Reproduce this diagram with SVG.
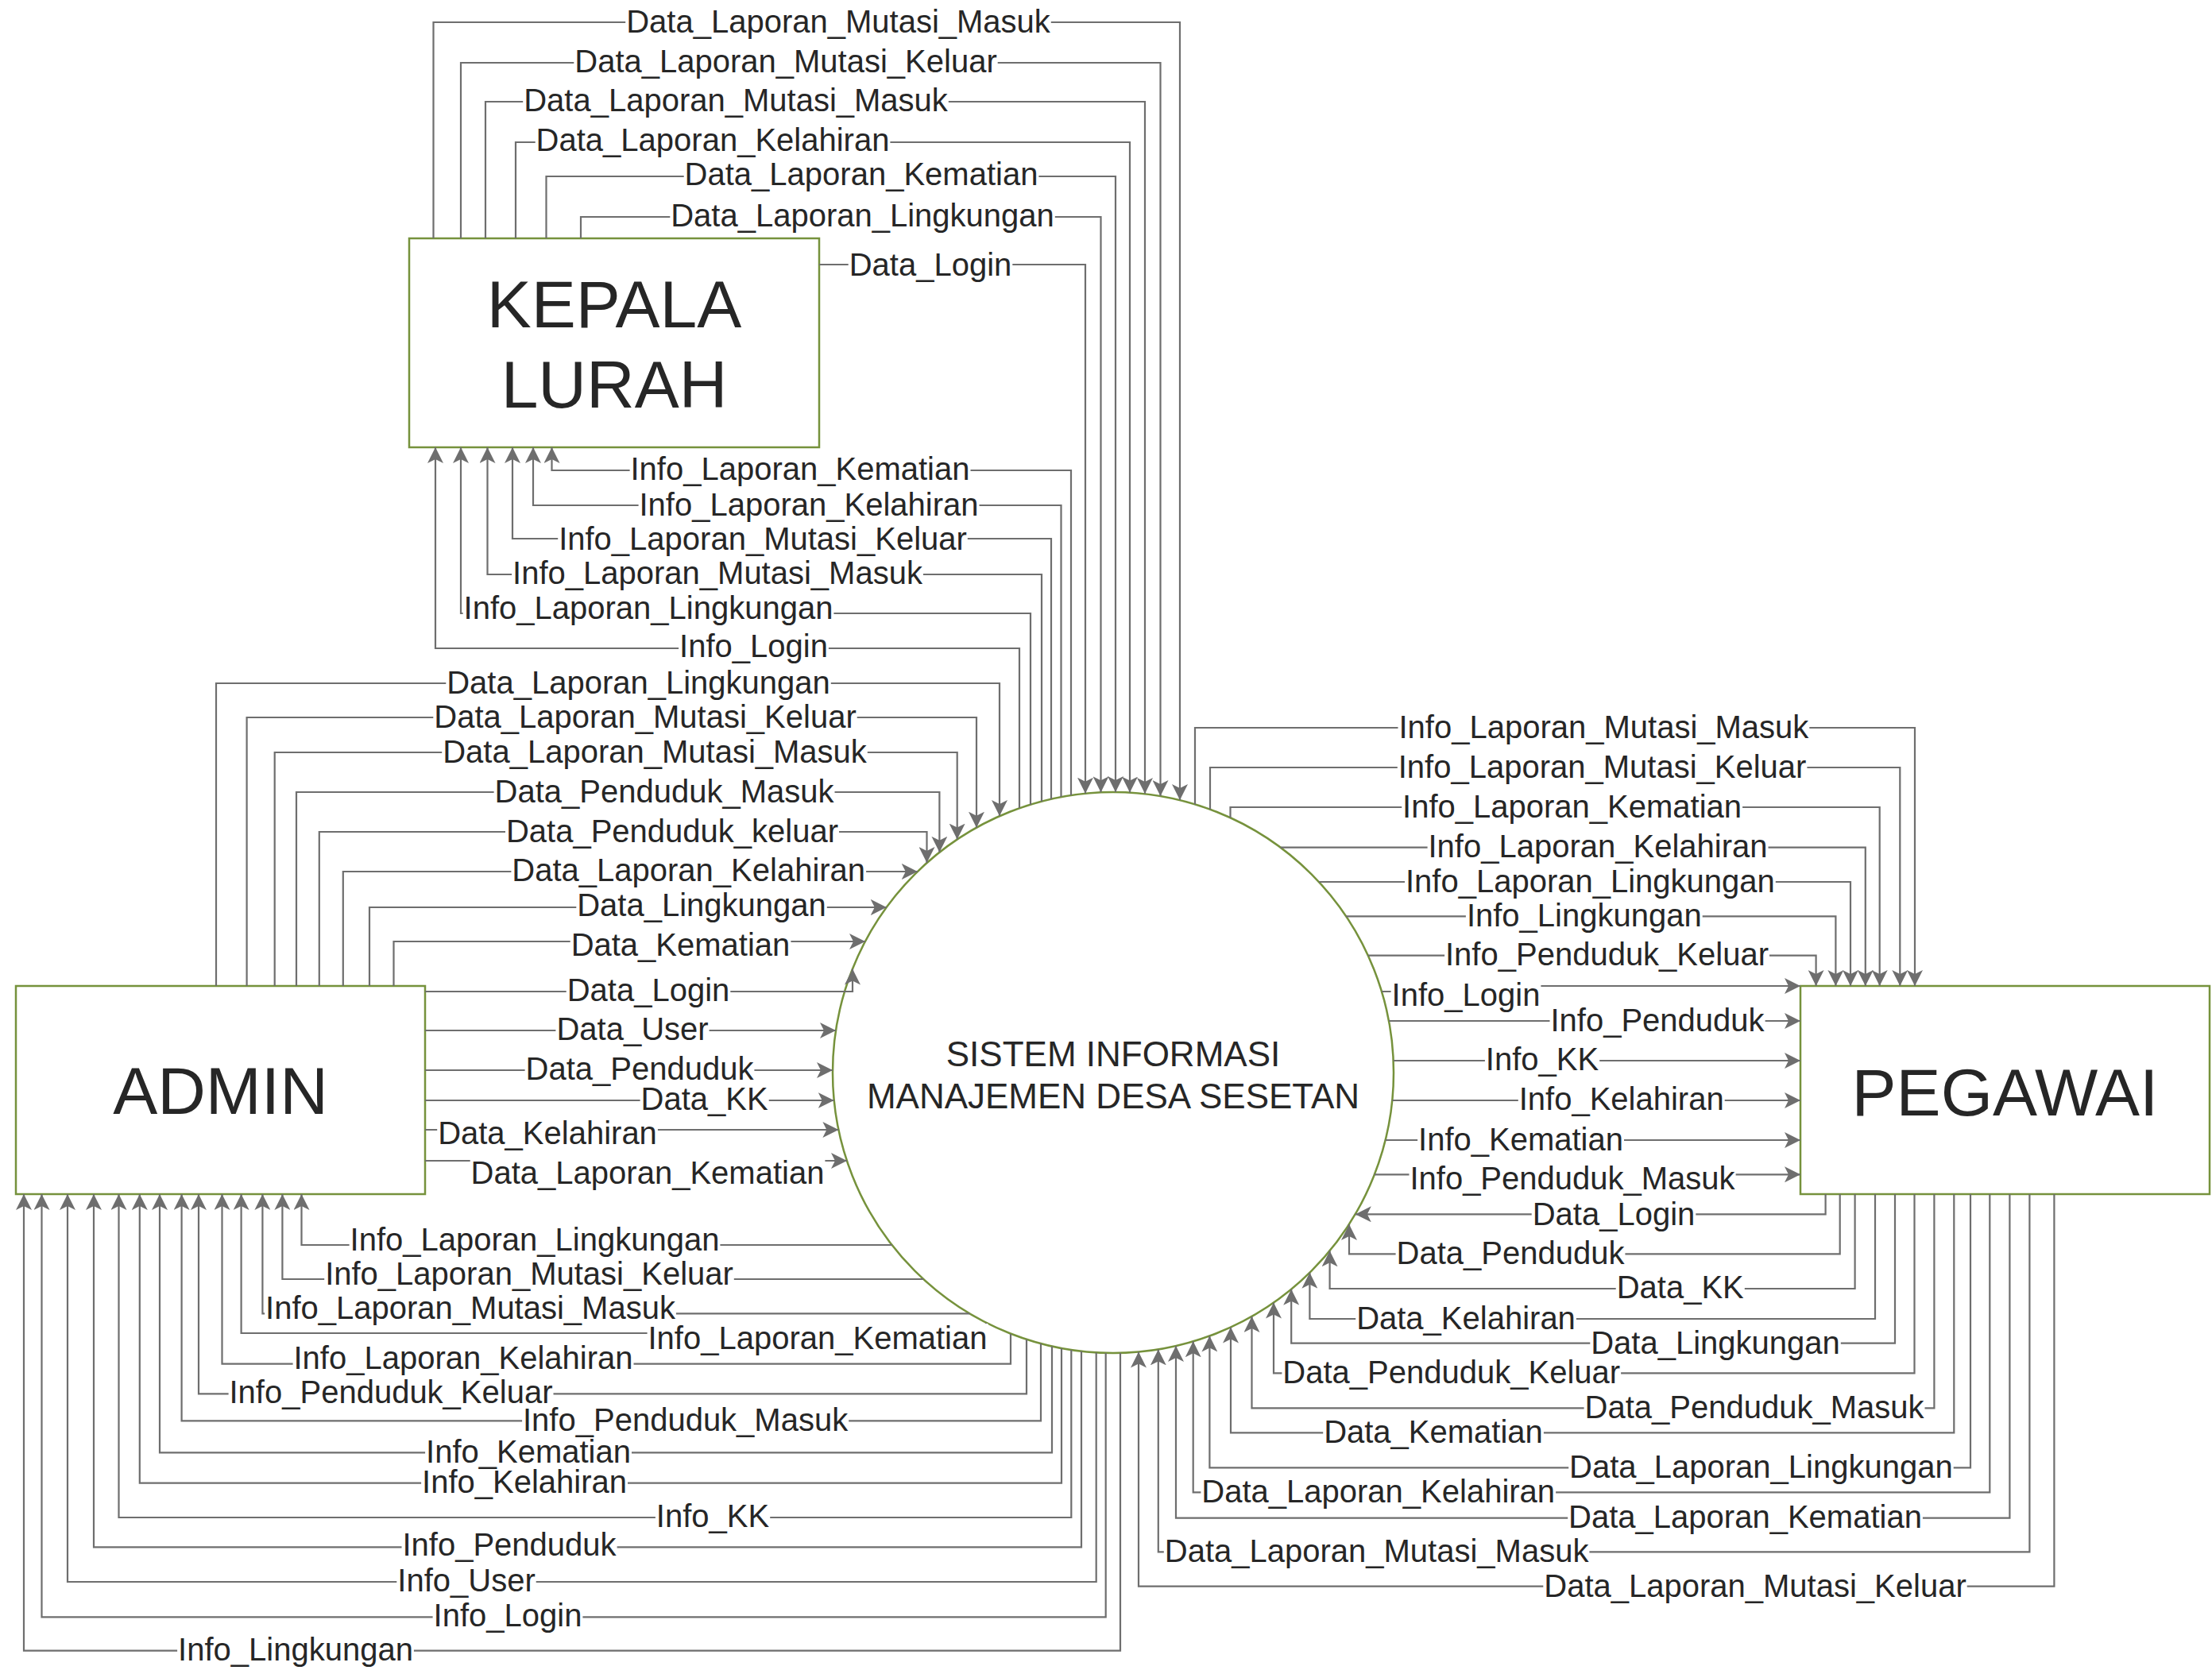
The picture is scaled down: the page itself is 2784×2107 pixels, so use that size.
<svg xmlns="http://www.w3.org/2000/svg" width="2784" height="2107" viewBox="0 0 2784 2107">
<defs>
<style>
.node{fill:#fff;stroke:#76923c;stroke-width:2.5}
.nt{font-family:"Liberation Sans",Arial,sans-serif;font-size:84px;fill:#262626;text-anchor:middle}
.ct{font-family:"Liberation Sans",Arial,sans-serif;font-size:44px;fill:#262626;text-anchor:middle}
.ln{fill:none;stroke:#6e6e6e;stroke-width:2.2}
.ar{marker-end:url(#ah)}
.bg{fill:#fff}
.lb{font-family:"Liberation Sans",Arial,sans-serif;font-size:40px;fill:#262626;text-anchor:middle}
</style>
<marker id="ah" viewBox="0 0 20 20" refX="20" refY="10" markerWidth="20" markerHeight="20" markerUnits="userSpaceOnUse" orient="auto"><path d="M0,0 L20,10 L0,20 L5,10 Z" fill="#6e6e6e"/></marker>
</defs>
<rect width="2784" height="2107" fill="#fff"/>

<g id="kepala-lurah">
<rect class="node" x="515" y="300" width="516" height="263"/>
<text class="nt" x="773" y="412">KEPALA</text>
<text class="nt" x="773" y="513">LURAH</text>
</g>
<g id="admin">
<rect class="node" x="20" y="1241" width="515" height="262"/>
<text class="nt" x="277.5" y="1402">ADMIN</text>
</g>
<g id="pegawai">
<rect class="node" x="2266" y="1241" width="515" height="262"/>
<text class="nt" x="2523.5" y="1404">PEGAWAI</text>
</g>
<g id="sistem">
<circle class="node" cx="1401" cy="1350" r="353"/>
<text class="ct" x="1401" y="1342">SISTEM INFORMASI</text>
<text class="ct" x="1401" y="1395">MANAJEMEN DESA SESETAN</text>
</g>

<g id="connectors">
<g id="lines">
<path class="ln ar" d="M545.5,300 V28 H1485 V1007"/>
<path class="ln ar" d="M580,300 V79 H1460.5 V1002"/>
<path class="ln ar" d="M611,300 V128 H1441 V999"/>
<path class="ln ar" d="M649,300 V179 H1422 V997.6"/>
<path class="ln ar" d="M687.5,300 V222 H1404 V997"/>
<path class="ln ar" d="M731,300 V273 H1385.5 V997.3"/>
<path class="ln ar" d="M1031,333 H1366 V998.7"/>

<path class="ln ar" d="M1348,1001 V592 H694.5 V563"/>
<path class="ln ar" d="M1335.5,1003 V636 H671 V563"/>
<path class="ln ar" d="M1323,1006 V678 H645 V563"/>
<path class="ln ar" d="M1311,1009 V723 H613.5 V563"/>
<path class="ln ar" d="M1297,1013 V772 H580 V563"/>
<path class="ln ar" d="M1283,1017 V816 H548 V563"/>

<path class="ln ar" d="M272,1241 V860 H1258 V1027"/>
<path class="ln ar" d="M310.6,1241 V903 H1229 V1041.7"/>
<path class="ln ar" d="M345.7,1241 V947 H1204.7 V1056.6"/>
<path class="ln ar" d="M373,1241 V997 H1182.4 V1072.8"/>
<path class="ln ar" d="M401.8,1241 V1047 H1166.5 V1086"/>
<path class="ln ar" d="M431.8,1241 V1097 H1154.8"/>
<path class="ln ar" d="M465,1241 V1142 H1115.8"/>
<path class="ln ar" d="M495.5,1241 V1185 H1089"/>
<path class="ln ar" d="M535,1248 H1073 V1219.5"/>
<path class="ln ar" d="M535,1297 H1052"/>
<path class="ln ar" d="M535,1347 H1048"/>
<path class="ln ar" d="M535,1385 H1049.7"/>
<path class="ln ar" d="M535,1422 H1055.4"/>
<path class="ln ar" d="M535,1461 H1066"/>

<path class="ln ar" d="M1122.6,1567 H379.5 V1503"/>
<path class="ln ar" d="M1162.2,1610 H355.4 V1503"/>
<path class="ln ar" d="M1220.4,1653.3 H330.4 V1503"/>
<path class="ln ar" d="M1241,1665 V1678 H303.6 V1503"/>
<path class="ln ar" d="M1272,1679 V1716.7 H279.5 V1503"/>
<path class="ln ar" d="M1292,1686 V1754.3 H250 V1503"/>
<path class="ln ar" d="M1310,1691 V1788.3 H228.6 V1503"/>
<path class="ln ar" d="M1324,1694.5 V1828.3 H201 V1503"/>
<path class="ln ar" d="M1336,1697 V1866.7 H175.8 V1503"/>
<path class="ln ar" d="M1348.3,1699 V1910 H149.5 V1503"/>
<path class="ln ar" d="M1361,1700.7 V1947.3 H118 V1503"/>
<path class="ln ar" d="M1379.7,1702.4 V1991 H85 V1503"/>
<path class="ln ar" d="M1391.7,1702.9 V2035.3 H52.5 V1503"/>
<path class="ln ar" d="M1410,1702.9 V2077.7 H30 V1503"/>

<path class="ln ar" d="M1504,1012.4 V916 H2410 V1241"/>
<path class="ln ar" d="M1523,1018.8 V966 H2391.3 V1241"/>
<path class="ln ar" d="M1548.5,1029.3 V1016 H2365.7 V1241"/>
<path class="ln ar" d="M1611.6,1066.7 H2347.8 V1241"/>
<path class="ln ar" d="M1659.9,1110 H2329 V1241"/>
<path class="ln ar" d="M1694,1153.3 H2310.4 V1241"/>
<path class="ln ar" d="M1721.8,1202.7 H2285.6 V1241"/>
<path class="ln ar" d="M1739,1248 H1850 V1241 H2266"/>
<path class="ln ar" d="M1748,1285 H2266"/>
<path class="ln ar" d="M1753.7,1335 H2266"/>
<path class="ln ar" d="M1752.3,1385 H2266"/>
<path class="ln ar" d="M1743.6,1435 H2266"/>
<path class="ln ar" d="M1729.9,1478.3 H2266"/>

<path class="ln ar" d="M2297.6,1503 V1528.3 H1705.8"/>
<path class="ln ar" d="M2315.7,1503 V1578.3 H1698 V1541"/>
<path class="ln ar" d="M2334.6,1503 V1622 H1673.6 V1574.3"/>
<path class="ln ar" d="M2360,1503 V1660 H1648.4 V1601.8"/>
<path class="ln ar" d="M2385,1503 V1690.7 H1625.2 V1622.7"/>
<path class="ln ar" d="M2409.5,1503 V1728.3 H1603 V1639.6"/>
<path class="ln ar" d="M2434.4,1503 V1772.3 H1575.5 V1656.9"/>
<path class="ln ar" d="M2459.3,1503 V1803.3 H1549 V1670.5"/>
<path class="ln ar" d="M2480,1503 V1847.3 H1522.4 V1681.5"/>
<path class="ln ar" d="M2504.3,1503 V1878.3 H1501.7 V1688.3"/>
<path class="ln ar" d="M2529.4,1503 V1910.7 H1480 V1694"/>
<path class="ln ar" d="M2554.4,1503 V1953.3 H1457.8 V1698.4"/>
<path class="ln ar" d="M2585.4,1503 V1996.7 H1433 V1701.6"/>
</g>

<g id="label-backgrounds">
<rect class="bg" x="787.2" y="10" width="535.6" height="40"/>
<rect class="bg" x="722.3" y="61" width="533.4" height="40"/>
<rect class="bg" x="658.2" y="110" width="535.6" height="40"/>
<rect class="bg" x="673.7" y="161" width="446.7" height="40"/>
<rect class="bg" x="860.7" y="204" width="446.7" height="40"/>
<rect class="bg" x="843.3" y="255" width="484.5" height="40"/>
<rect class="bg" x="1067.7" y="315" width="206.6" height="40"/>

<rect class="bg" x="792.6" y="574" width="428.9" height="40"/>
<rect class="bg" x="803.6" y="618" width="428.9" height="40"/>
<rect class="bg" x="702.2" y="660" width="515.6" height="40"/>
<rect class="bg" x="644.1" y="705" width="517.8" height="40"/>
<rect class="bg" x="582.6" y="748" width="466.8" height="40"/>
<rect class="bg" x="854.1" y="796" width="188.8" height="40"/>

<rect class="bg" x="561.3" y="842" width="484.5" height="40"/>
<rect class="bg" x="545.3" y="885" width="533.4" height="40"/>
<rect class="bg" x="556.2" y="929" width="535.6" height="40"/>
<rect class="bg" x="621.6" y="979" width="428.9" height="40"/>
<rect class="bg" x="636" y="1029" width="420" height="40"/>
<rect class="bg" x="643.4" y="1079" width="446.7" height="40"/>
<rect class="bg" x="725.3" y="1124" width="315.5" height="40"/>
<rect class="bg" x="717.7" y="1171" width="277.7" height="42"/>
<rect class="bg" x="712.7" y="1230" width="206.6" height="40"/>
<rect class="bg" x="699.4" y="1279" width="193.2" height="40"/>
<rect class="bg" x="660.6" y="1329" width="288.8" height="40"/>
<rect class="bg" x="805.6" y="1367" width="162.1" height="40"/>
<rect class="bg" x="550.2" y="1408" width="277.7" height="41"/>
<rect class="bg" x="591.7" y="1450" width="446.7" height="51"/>

<rect class="bg" x="439.6" y="1542.7" width="466.8" height="40"/>
<rect class="bg" x="408.2" y="1586" width="515.6" height="40"/>
<rect class="bg" x="333.1" y="1629.3" width="517.8" height="40"/>
<rect class="bg" x="814.6" y="1666" width="428.9" height="42"/>
<rect class="bg" x="368.6" y="1692.7" width="428.9" height="40"/>
<rect class="bg" x="287.6" y="1736.3" width="408.9" height="40"/>
<rect class="bg" x="657.1" y="1770.3" width="411.1" height="40"/>
<rect class="bg" x="535.1" y="1810.3" width="259.9" height="40"/>
<rect class="bg" x="530.1" y="1848.7" width="259.9" height="40"/>
<rect class="bg" x="824.9" y="1892" width="144.3" height="40"/>
<rect class="bg" x="505.5" y="1929.3" width="271.1" height="40"/>
<rect class="bg" x="499.3" y="1973" width="175.4" height="40"/>
<rect class="bg" x="544.6" y="2017.3" width="188.8" height="40"/>
<rect class="bg" x="223.1" y="2059.7" width="297.8" height="40"/>

<rect class="bg" x="1759.5" y="898" width="517.8" height="40"/>
<rect class="bg" x="1758.8" y="948" width="515.6" height="40"/>
<rect class="bg" x="1764.2" y="998" width="428.9" height="40"/>
<rect class="bg" x="1796.6" y="1048.7" width="428.9" height="40"/>
<rect class="bg" x="1768" y="1092" width="466.8" height="40"/>
<rect class="bg" x="1844.9" y="1135.3" width="297.8" height="40"/>
<rect class="bg" x="1818.1" y="1184.7" width="408.9" height="40"/>
<rect class="bg" x="1750.6" y="1233" width="188.8" height="44"/>
<rect class="bg" x="1950.5" y="1267" width="271.1" height="40"/>
<rect class="bg" x="1868.9" y="1317" width="144.3" height="40"/>
<rect class="bg" x="1910.8" y="1367" width="259.9" height="40"/>
<rect class="bg" x="1784.1" y="1417" width="259.9" height="40"/>
<rect class="bg" x="1773.5" y="1462" width="411.1" height="44"/>

<rect class="bg" x="1927.7" y="1510.3" width="206.6" height="40"/>
<rect class="bg" x="1756.6" y="1560.3" width="288.8" height="40"/>
<rect class="bg" x="2033.7" y="1604" width="162.1" height="40"/>
<rect class="bg" x="1706.2" y="1642" width="277.7" height="40"/>
<rect class="bg" x="2001.3" y="1672.7" width="315.5" height="40"/>
<rect class="bg" x="1613.4" y="1710.3" width="426.7" height="40"/>
<rect class="bg" x="1993.6" y="1754.3" width="428.9" height="40"/>
<rect class="bg" x="1665.2" y="1785.3" width="277.7" height="40"/>
<rect class="bg" x="1974.2" y="1829.3" width="484.5" height="40"/>
<rect class="bg" x="1511.4" y="1860.3" width="446.7" height="40"/>
<rect class="bg" x="1973.2" y="1892.7" width="446.7" height="40"/>
<rect class="bg" x="1464.8" y="1935.3" width="535.6" height="40"/>
<rect class="bg" x="1942.3" y="1978.7" width="533.4" height="40"/>
</g>

<g id="labels">
<text class="lb" x="1055" y="41">Data_Laporan_Mutasi_Masuk</text>
<text class="lb" x="989" y="91">Data_Laporan_Mutasi_Keluar</text>
<text class="lb" x="926" y="140">Data_Laporan_Mutasi_Masuk</text>
<text class="lb" x="897" y="190">Data_Laporan_Kelahiran</text>
<text class="lb" x="1084" y="233">Data_Laporan_Kematian</text>
<text class="lb" x="1085.5" y="285">Data_Laporan_Lingkungan</text>
<text class="lb" x="1171" y="347">Data_Login</text>

<text class="lb" x="1007" y="604">Info_Laporan_Kematian</text>
<text class="lb" x="1018" y="648.6">Info_Laporan_Kelahiran</text>
<text class="lb" x="960" y="692">Info_Laporan_Mutasi_Keluar</text>
<text class="lb" x="903" y="735.3">Info_Laporan_Mutasi_Masuk</text>
<text class="lb" x="816" y="779">Info_Laporan_Lingkungan</text>
<text class="lb" x="948.5" y="826.7">Info_Login</text>

<text class="lb" x="803.5" y="873.3">Data_Laporan_Lingkungan</text>
<text class="lb" x="812" y="916">Data_Laporan_Mutasi_Keluar</text>
<text class="lb" x="824" y="960">Data_Laporan_Mutasi_Masuk</text>
<text class="lb" x="836" y="1010">Data_Penduduk_Masuk</text>
<text class="lb" x="846" y="1060">Data_Penduduk_keluar</text>
<text class="lb" x="866.7" y="1109.3">Data_Laporan_Kelahiran</text>
<text class="lb" x="883" y="1153.3">Data_Lingkungan</text>
<text class="lb" x="856.5" y="1203">Data_Kematian</text>
<text class="lb" x="816" y="1260">Data_Login</text>
<text class="lb" x="796" y="1309.3">Data_User</text>
<text class="lb" x="805" y="1359.3">Data_Penduduk</text>
<text class="lb" x="886.6" y="1397.3">Data_KK</text>
<text class="lb" x="689" y="1440">Data_Kelahiran</text>
<text class="lb" x="815" y="1490">Data_Laporan_Kematian</text>

<text class="lb" x="673" y="1573.7">Info_Laporan_Lingkungan</text>
<text class="lb" x="666" y="1616.7">Info_Laporan_Mutasi_Keluar</text>
<text class="lb" x="592" y="1660.3">Info_Laporan_Mutasi_Masuk</text>
<text class="lb" x="1029" y="1698">Info_Laporan_Kematian</text>
<text class="lb" x="583" y="1722.7">Info_Laporan_Kelahiran</text>
<text class="lb" x="492" y="1766.3">Info_Penduduk_Keluar</text>
<text class="lb" x="862.6" y="1801.3">Info_Penduduk_Masuk</text>
<text class="lb" x="665" y="1841.3">Info_Kematian</text>
<text class="lb" x="660" y="1878.7">Info_Kelahiran</text>
<text class="lb" x="897" y="1922">Info_KK</text>
<text class="lb" x="641" y="1958.3">Info_Penduduk</text>
<text class="lb" x="587" y="2002.7">Info_User</text>
<text class="lb" x="639" y="2046.7">Info_Login</text>
<text class="lb" x="372" y="2090">Info_Lingkungan</text>

<text class="lb" x="2018.4" y="929.3">Info_Laporan_Mutasi_Masuk</text>
<text class="lb" x="2016.6" y="979.3">Info_Laporan_Mutasi_Keluar</text>
<text class="lb" x="1978.6" y="1029">Info_Laporan_Kematian</text>
<text class="lb" x="2011" y="1079.3">Info_Laporan_Kelahiran</text>
<text class="lb" x="2001.4" y="1122.7">Info_Laporan_Lingkungan</text>
<text class="lb" x="1993.8" y="1166">Info_Lingkungan</text>
<text class="lb" x="2022.5" y="1215">Info_Penduduk_Keluar</text>
<text class="lb" x="1845" y="1266">Info_Login</text>
<text class="lb" x="2086" y="1298">Info_Penduduk</text>
<text class="lb" x="1941" y="1347">Info_KK</text>
<text class="lb" x="2040.7" y="1397">Info_Kelahiran</text>
<text class="lb" x="1914" y="1448.3">Info_Kematian</text>
<text class="lb" x="1979" y="1496.7">Info_Penduduk_Masuk</text>

<text class="lb" x="2031" y="1541.7">Data_Login</text>
<text class="lb" x="1901" y="1591">Data_Penduduk</text>
<text class="lb" x="2114.7" y="1634">Data_KK</text>
<text class="lb" x="1845" y="1672.7">Data_Kelahiran</text>
<text class="lb" x="2159" y="1704">Data_Lingkungan</text>
<text class="lb" x="1826.7" y="1740.7">Data_Penduduk_Keluar</text>
<text class="lb" x="2208" y="1785">Data_Penduduk_Masuk</text>
<text class="lb" x="1804" y="1816">Data_Kematian</text>
<text class="lb" x="2216.4" y="1860">Data_Laporan_Lingkungan</text>
<text class="lb" x="1734.7" y="1890.7">Data_Laporan_Kelahiran</text>
<text class="lb" x="2196.5" y="1923.3">Data_Laporan_Kematian</text>
<text class="lb" x="1732.6" y="1965.7">Data_Laporan_Mutasi_Masuk</text>
<text class="lb" x="2209" y="2010">Data_Laporan_Mutasi_Keluar</text>
</g>
</g>
</svg>
